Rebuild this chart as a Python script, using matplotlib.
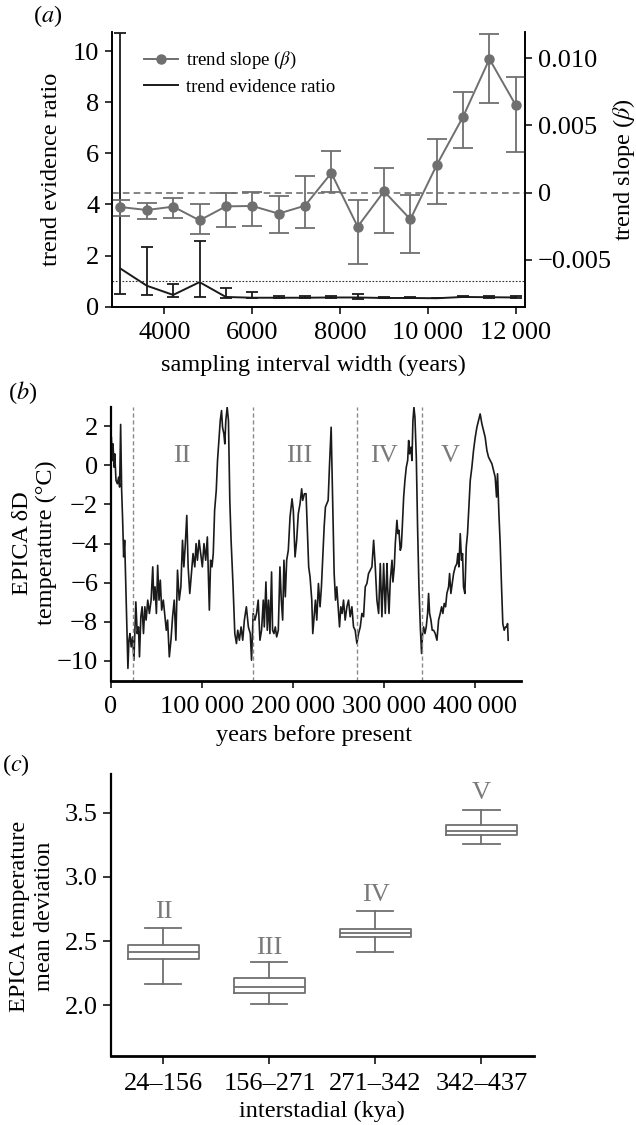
import matplotlib
matplotlib.use('Agg')
import matplotlib.pyplot as plt
import numpy as np

plt.rcParams['font.family'] = ['Liberation Serif', 'DejaVu Serif']
plt.rcParams['mathtext.fontset'] = 'stix'

# ---- panel (a) data ----
interval = [3000, 3600, 4200, 4800, 5400, 6000, 6600, 7200,
            7800, 8400, 9000, 9600, 10200, 10800, 11400, 12000]
ratio = [1.49, 0.82, 0.46, 0.96, 0.38, 0.35, 0.35, 0.35,
         0.36, 0.36, 0.34, 0.34, 0.33, 0.38, 0.37, 0.36]
ratio_hi = [10.72, 2.32, 0.89, 2.58, 0.74, 0.56, 0.43, 0.40,
            0.42, 0.50, 0.36, 0.36, 0.34, 0.41, 0.40, 0.40]
ratio_lo = [0.48, 0.46, 0.36, 0.39, 0.35, 0.32, 0.32, 0.32,
            0.32, 0.31, 0.32, 0.32, 0.32, 0.36, 0.35, 0.33]
slope = [-0.00107, -0.00129, -0.00104, -0.00206, -0.00102, -0.00099, -0.00156, -0.00097,
         0.00146, -0.00253, 0.0001, -0.00198, 0.00206, 0.00565, 0.00994, 0.0065]
slope_hi = [-0.00055, -0.00077, -0.00042, -0.00082, -0.00002, 0.00002, -0.00025, 0.00126,
            0.00312, -0.00055, 0.00183, -0.00017, 0.00397, 0.00746, 0.0118, 0.0086]
slope_lo = [-0.00171, -0.00196, -0.00191, -0.0031, -0.00253, -0.0025, -0.00297, -0.00265,
            0.00007, -0.00533, -0.003, -0.00451, -0.00082, 0.0033, 0.00667, 0.00305]
a_xticks = [4000, 6000, 8000, 10000, 12000]
a_xlabels = ['4000', '6000', '8000', '10\u2009000', '12\u2009000']
a_rticks = [-0.005, 0, 0.005, 0.010]
a_rlabels = ['\u22120.005', '0', '0.005', '0.010']

# ---- panel (b) data: EPICA temperature (kyr before present, deg C) ----
age_kyr = [
    0.0, 0.7, 1.8, 2.5, 3.6, 4.4, 5.8, 7.3, 8.7, 9.8,
    10.9, 12.0, 13.1, 14.2, 15.3, 16.4, 17.5, 18.9, 20.0, 21.1,
    22.5, 24.0, 25.5, 26.5, 27.6, 29.1, 30.5, 31.6, 33.1, 34.5,
    36.0, 37.5, 38.9, 40.7, 42.5, 44.4, 46.2, 47.3, 48.7, 50.2,
    51.6, 53.1, 54.5, 56.0, 57.8, 59.6, 61.1, 62.5, 64.4, 66.2,
    68.0, 69.8, 71.6, 73.4, 75.3, 77.1, 78.9, 80.4, 81.8, 83.6,
    85.1, 86.9, 88.7, 90.5, 92.4, 93.8, 95.3, 97.1, 98.9, 100.7,
    102.5, 104.4, 106.2, 107.3, 108.4, 109.8, 111.3, 112.7, 114.2, 116.0,
    117.4, 118.9, 120.4, 121.8, 122.9, 124.4, 125.4, 126.5, 128.0, 129.4,
    130.9, 132.3, 134.5, 136.4, 138.2, 139.6, 141.4, 143.3, 145.1, 146.9,
    149.1, 151.3, 153.4,
    154.8, 156.6, 158.5, 160.3, 162.1, 164.0, 165.8, 167.7, 168.8, 170.6,
    172.1, 173.5, 175.0, 176.8, 177.9, 179.4, 180.9, 182.4, 184.2, 186.0,
    187.5, 189.0, 190.4, 191.9, 193.4, 195.2, 197.1, 199.3, 200.7, 202.6,
    204.4, 206.2, 208.1, 209.9, 211.0, 212.9, 214.7, 216.2, 217.6, 219.1,
    221.0, 222.1, 223.5, 225.0, 226.5, 228.3, 230.1, 231.6, 233.1, 234.6,
    236.0, 237.5, 239.0, 240.4, 242.3, 244.1, 245.6, 247.1, 248.5, 250.0,
    251.5, 252.9, 254.4, 255.9, 257.7, 259.6, 261.4, 263.2, 265.1, 266.9,
    268.7, 270.6, 272.4, 274.3, 276.1, 277.9, 279.8, 281.6, 283.4, 285.3,
    287.1, 289.0, 290.8, 292.6, 294.5, 296.3, 298.1, 300.0, 301.8, 303.7,
    304.4, 305.9, 307.3, 309.2, 310.2, 311.7, 312.8, 314.6, 315.7, 316.8,
    318.3, 319.4, 320.5, 322.0, 323.4, 324.9, 326.4, 327.5, 328.5, 330.0,
    331.1, 332.2, 333.3, 334.4, 335.9, 337.3, 338.8, 340.3, 341.7, 342.8,
    343.9, 345.4, 346.8, 348.3, 349.4, 350.5, 352.0, 353.4, 354.9, 356.7,
    358.6, 360.4, 362.2, 363.7, 365.1, 366.6, 368.1, 369.5, 371.4, 372.5,
    373.9, 375.4, 376.9, 378.7, 380.5, 381.6, 382.7, 384.2, 385.6, 386.7,
    387.8, 389.3, 390.8, 392.2, 393.7, 395.2, 397.0, 398.8, 400.7, 402.5,
    404.3, 406.1, 408.0, 409.8, 411.6, 413.5, 415.3, 417.1, 419.0, 420.8,
    422.6, 424.1, 425.2, 426.7, 428.1, 429.6, 431.0, 432.5, 434.0, 435.4,
    436.2, 436.9]
temp = [
    1.27, 1.44, 0.25, 1.10, -0.09, 0.59, -0.77, -0.94, -0.60, -1.11,
    2.09, -1.28, -2.81, -4.68, -3.83, -5.87, -7.74, -10.38, -8.94, -8.60,
    -9.28, -8.77, -9.96, -8.60, -6.98, -8.60, -8.26, -9.79, -7.74, -7.23,
    -8.60, -7.23, -7.91, -6.89, -7.57, -6.89, -5.19, -6.89, -6.21, -7.57,
    -5.11, -6.89, -5.87, -7.40, -6.89, -7.74, -8.43, -7.91, -9.79, -8.94,
    -7.74, -6.89, -8.94, -5.36, -6.89, -6.21, -3.83, -5.19, -4.17, -2.56,
    -5.19, -6.55, -5.53, -4.51, -5.19, -4.00, -4.85, -3.83, -4.51, -5.19,
    -4.00, -4.85, -3.66, -5.53, -7.40, -4.85, -5.19, -4.51, -2.30, -1.28,
    0.25, 1.27, 2.29, 2.80, 1.95, 1.61, 1.10, 2.29, 2.97, 2.29,
    -1.79, -3.83, -6.21, -8.60, -9.11, -8.43, -8.94, -8.26, -8.94, -7.91,
    -7.23, -8.26, -8.60,
    -9.96, -7.57, -7.91, -7.57, -6.89, -8.94, -8.43, -6.89, -8.26, -5.96,
    -8.43, -6.89, -8.60, -5.45, -8.43, -8.60, -8.26, -8.77, -8.43, -5.19,
    -6.89, -7.91, -4.85, -6.72, -4.85, -4.34, -2.64, -1.71, -2.30, -4.68,
    -3.83, -2.47, -1.96, -1.20, -1.79, -1.45, -1.45, -3.32, -5.19, -5.70,
    -6.89, -8.60, -7.74, -6.89, -7.91, -6.04, -7.23, -6.21, -4.68, -3.15,
    -2.13, -1.96, -1.79, -0.09, 1.95, -2.13, -5.53, -6.89, -6.21, -7.23,
    -8.26, -7.23, -7.57, -6.89, -7.91, -7.23, -6.89, -7.74, -7.23, -8.26,
    -8.43, -9.11, -8.60, -8.26, -7.57, -7.74, -6.21, -6.04, -5.53, -5.36,
    -5.19, -3.83, -5.19, -6.89, -7.57, -5.02, -7.74, -5.02, -7.57, -5.02,
    -6.21, -7.57, -5.87, -4.85, -5.96, -5.19, -4.00, -2.81, -3.49, -3.32,
    -4.34, -4.17, -3.15, -1.62, -0.77, -0.09, 0.25, 1.27, 0.59, 0.93,
    0.25, 2.29, 2.97, 2.46, 0.42, -3.15, -6.21, -8.26, -9.62, -8.60,
    -8.26, -8.60, -8.26, -7.57, -6.55, -7.57, -7.91, -8.43, -8.43, -8.60,
    -8.94, -7.91, -7.57, -7.23, -7.57, -7.06, -7.23, -6.55, -6.21, -5.53,
    -6.55, -6.04, -5.53, -5.19, -5.02, -4.51, -5.19, -3.49, -4.85, -4.51,
    -6.21, -6.55, -4.17, -3.49, -2.13, -0.77, -0.09, 0.76, 1.44, 1.95,
    2.29, 2.63, 2.12, 1.78, 1.44, 0.76, 0.42, 0.25, 0.08, -0.26,
    -0.60, -1.62, -0.43, -2.47, -4.00, -6.21, -8.09, -8.43, -8.26, -8.26,
    -8.09, -8.94]
boundaries = [24000, 156000, 271000, 342000]
roman = ['II', 'III', 'IV', 'V']
roman_age = [78000, 206700, 300700, 372800]
b_xticks = [0, 100000, 200000, 300000, 400000]
b_xlabels = ['0', '100\u2009000', '200\u2009000', '300\u2009000', '400\u2009000']

# ---- panel (c) data ----
periods = ['24\u2013156', '156\u2013271', '271\u2013342', '342\u2013437']
box_med = [2.412, 2.140, 2.565, 3.360]
box_q1 = [2.360, 2.093, 2.531, 3.326]
box_q3 = [2.466, 2.210, 2.596, 3.407]
box_lo = [2.163, 2.008, 2.417, 3.254]
box_hi = [2.604, 2.334, 2.733, 3.521]
roman_c_y = [2.728, 2.448, 2.858, 3.655]

grey = '#6f6f6f'
TICK = 19
LAB = 17.5

fig = plt.figure(figsize=(6.36, 11.25), dpi=100)

# ================= (a) =================
ax = fig.add_axes([0.1756, 0.7274, 0.6499, 0.2444])
ax2 = ax.twinx()

r = np.array(ratio)
ax.errorbar(interval, r, yerr=[r - np.array(ratio_lo), np.array(ratio_hi) - r],
            fmt='none', ecolor='#1a1a1a', elinewidth=1.3, capsize=4, capthick=1.3)
h_ratio, = ax.plot(interval, r, color='#1a1a1a', lw=1.4, label='trend evidence ratio')
ax.axhline(1, color='#333333', lw=0.8, ls=(0, (1.5, 1.5)))
ax.set_xlim(2800, 12210)
ax.set_ylim(0, 10.76)
ax.set_yticks([0, 2, 4, 6, 8, 10])
ax.set_xticks(a_xticks)
ax.set_xticklabels(a_xlabels)

s = np.array(slope)
ax2.errorbar(interval, s, yerr=[s - np.array(slope_lo), np.array(slope_hi) - s],
             fmt='none', ecolor=grey, elinewidth=1.3, capsize=7, capthick=1.3)
h_slope, = ax2.plot(interval, s, color=grey, lw=1.4, marker='o', ms=6.5,
                    label=r'trend slope ($\beta$)')
ax2.axhline(0, color=grey, lw=1.2, ls=(0, (4, 2.5)))
ax2.set_ylim(-0.00848, 0.01197)
ax2.set_yticks(a_rticks)
ax2.set_yticklabels(a_rlabels)

for a in (ax, ax2):
    a.spines['top'].set_visible(False)
    for sp in ('left', 'right', 'bottom'):
        a.spines[sp].set_linewidth(1.2)
    a.tick_params(labelsize=TICK, direction='out', length=5, width=1.1, pad=4)
ax.tick_params(axis='x', pad=6)

ax.set_ylabel('trend evidence ratio', fontsize=LAB)
ax.yaxis.set_label_coords(-0.1445, 0.5)
ax.yaxis.label.set_va('center')
ax2.set_ylabel(r'trend slope ($\beta$)', fontsize=LAB)
ax2.yaxis.set_label_coords(1.2395, 0.497)
ax2.yaxis.label.set_va('center')
ax.set_xlabel('sampling interval width (years)', fontsize=LAB)
ax.xaxis.set_label_coords(0.489, -0.212)
ax.xaxis.label.set_va('center')

ax2.legend(handles=[h_slope, h_ratio], loc='upper left', bbox_to_anchor=(0.055, 0.967),
           frameon=False, fontsize=13.5, borderpad=0, handlelength=1.8,
           handletextpad=0.45, labelspacing=0.4)

fig.text(33 / 636, 1 - 16 / 1125, r'($a$)', fontsize=LAB, va='center', ha='left')

# ================= (b) =================
bx = fig.add_axes([0.1741, 0.3951, 0.6451, 0.2434])
bx.plot(np.array(age_kyr) * 1000, temp, color='#1a1a1a', lw=1.2)
for xb in boundaries:
    bx.axvline(xb, color='#8a8a8a', lw=1.0, ls=(0, (3, 2)))
for lab, xa in zip(roman, roman_age):
    bx.text(xa, 0.5, lab, color='#7a7a7a', fontsize=TICK, ha='center', va='center')
bx.set_xlim(0, 451000)
bx.set_ylim(-11, 3)
bx.set_yticks([-10, -8, -6, -4, -2, 0, 2])
bx.set_xticks(b_xticks)
bx.set_xticklabels(b_xlabels)
bx.spines['top'].set_visible(False)
bx.spines['right'].set_visible(False)
bx.spines['left'].set_linewidth(1.6)
bx.spines['bottom'].set_linewidth(2.0)
bx.tick_params(labelsize=TICK, direction='out', length=5, width=1.1, pad=4)
bx.tick_params(axis='x', pad=6)
bx.set_ylabel('EPICA \u03b4D\ntemperature (\u00b0C)', fontsize=LAB)
bx.yaxis.set_label_coords(-0.186, 0.502)
bx.yaxis.label.set_va('center')
bx.set_xlabel('years before present', fontsize=LAB)
bx.xaxis.set_label_coords(0.4955, -0.199)
bx.xaxis.label.set_va('center')
fig.text(8 / 636, 1 - 393 / 1125, r'($b$)', fontsize=LAB, va='center', ha='left')

# ================= (c) =================
cx = fig.add_axes([0.1753, 0.0613, 0.6651, 0.2507])
stats = []
for i in range(len(periods)):
    stats.append({'med': box_med[i], 'q1': box_q1[i], 'q3': box_q3[i],
                  'whislo': box_lo[i], 'whishi': box_hi[i], 'fliers': [],
                  'label': periods[i]})
pos = np.arange(1, len(periods) + 1)
lp = dict(color=grey, linewidth=1.3)
cx.bxp(stats, positions=pos, widths=0.67, capwidths=0.34, showfliers=False,
       boxprops=lp, medianprops=lp, whiskerprops=lp, capprops=lp)
for i, lab in enumerate(roman):
    cx.text(pos[i], roman_c_y[i], lab, color='#7a7a7a', fontsize=TICK,
            ha='center', va='center')
cx.set_xlim(0.51, 4.5)
cx.set_ylim(1.606, 3.80)
cx.set_yticks([2.0, 2.5, 3.0, 3.5])
cx.set_yticklabels(['2.0', '2.5', '3.0', '3.5'])
cx.spines['top'].set_visible(False)
cx.spines['right'].set_visible(False)
cx.spines['left'].set_linewidth(1.6)
cx.spines['bottom'].set_linewidth(2.0)
cx.tick_params(labelsize=TICK, direction='out', length=6, width=1.1, pad=4)
cx.tick_params(axis='x', pad=6)
cx.set_ylabel('EPICA temperature\nmean deviation', fontsize=LAB)
cx.yaxis.set_label_coords(-0.188, 0.494)
cx.yaxis.label.set_va('center')
cx.set_xlabel('interstadial (kya)', fontsize=LAB)
cx.xaxis.set_label_coords(0.4976, -0.1975)
cx.xaxis.label.set_va('center')
fig.text(2 / 636, 1 - 765 / 1125, r'($c$)', fontsize=LAB, va='center', ha='left')

fig.savefig('out.png', dpi=100)
